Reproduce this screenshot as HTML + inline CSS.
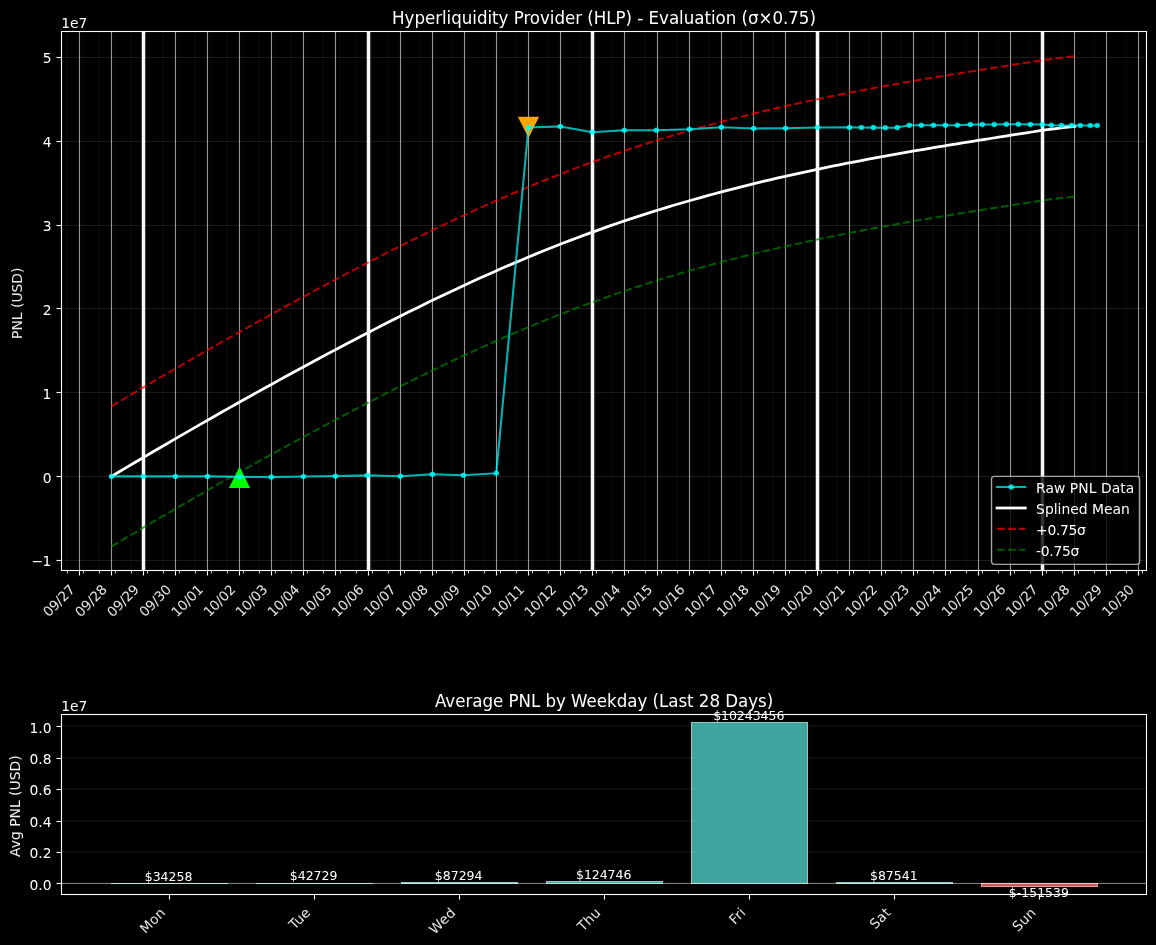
<!DOCTYPE html>
<html lang="en"><head><meta charset="utf-8"><title>Hyperliquidity Provider (HLP) - Evaluation</title>
<style>
html,body{margin:0;padding:0;background:#000;}
body{width:1156px;height:945px;overflow:hidden;font-family:'DejaVu Sans','Liberation Sans',sans-serif;}
svg{display:block;}
text{white-space:pre;}
</style></head><body>
<svg width="1156" height="945" viewBox="0 0 1156 945" font-family="'DejaVu Sans','Liberation Sans',sans-serif" fill="#fff">
<rect x="0" y="0" width="1156" height="945" fill="#000"/>
<g shape-rendering="crispEdges">
<rect x="66" y="32" width="2" height="538" fill="#fff" fill-opacity="0.02"/>
<rect x="82" y="32" width="2" height="538" fill="#fff" fill-opacity="0.02"/>
<rect x="98" y="32" width="2" height="538" fill="#fff" fill-opacity="0.02"/>
<rect x="114" y="32" width="2" height="538" fill="#fff" fill-opacity="0.02"/>
<rect x="130" y="32" width="2" height="538" fill="#fff" fill-opacity="0.02"/>
<rect x="146" y="32" width="2" height="538" fill="#fff" fill-opacity="0.02"/>
<rect x="162" y="32" width="2" height="538" fill="#fff" fill-opacity="0.02"/>
<rect x="178" y="32" width="2" height="538" fill="#fff" fill-opacity="0.02"/>
<rect x="194" y="32" width="2" height="538" fill="#fff" fill-opacity="0.02"/>
<rect x="210" y="32" width="2" height="538" fill="#fff" fill-opacity="0.02"/>
<rect x="226" y="32" width="2" height="538" fill="#fff" fill-opacity="0.02"/>
<rect x="242" y="32" width="2" height="538" fill="#fff" fill-opacity="0.02"/>
<rect x="258" y="32" width="2" height="538" fill="#fff" fill-opacity="0.02"/>
<rect x="274" y="32" width="2" height="538" fill="#fff" fill-opacity="0.02"/>
<rect x="290" y="32" width="2" height="538" fill="#fff" fill-opacity="0.02"/>
<rect x="306" y="32" width="2" height="538" fill="#fff" fill-opacity="0.02"/>
<rect x="322" y="32" width="2" height="538" fill="#fff" fill-opacity="0.02"/>
<rect x="339" y="32" width="2" height="538" fill="#fff" fill-opacity="0.02"/>
<rect x="355" y="32" width="2" height="538" fill="#fff" fill-opacity="0.02"/>
<rect x="371" y="32" width="2" height="538" fill="#fff" fill-opacity="0.02"/>
<rect x="387" y="32" width="2" height="538" fill="#fff" fill-opacity="0.02"/>
<rect x="403" y="32" width="2" height="538" fill="#fff" fill-opacity="0.02"/>
<rect x="419" y="32" width="2" height="538" fill="#fff" fill-opacity="0.02"/>
<rect x="435" y="32" width="2" height="538" fill="#fff" fill-opacity="0.02"/>
<rect x="451" y="32" width="2" height="538" fill="#fff" fill-opacity="0.02"/>
<rect x="467" y="32" width="2" height="538" fill="#fff" fill-opacity="0.02"/>
<rect x="483" y="32" width="2" height="538" fill="#fff" fill-opacity="0.02"/>
<rect x="499" y="32" width="2" height="538" fill="#fff" fill-opacity="0.02"/>
<rect x="515" y="32" width="2" height="538" fill="#fff" fill-opacity="0.02"/>
<rect x="531" y="32" width="2" height="538" fill="#fff" fill-opacity="0.02"/>
<rect x="547" y="32" width="2" height="538" fill="#fff" fill-opacity="0.02"/>
<rect x="563" y="32" width="2" height="538" fill="#fff" fill-opacity="0.02"/>
<rect x="579" y="32" width="2" height="538" fill="#fff" fill-opacity="0.02"/>
<rect x="595" y="32" width="2" height="538" fill="#fff" fill-opacity="0.02"/>
<rect x="611" y="32" width="2" height="538" fill="#fff" fill-opacity="0.02"/>
<rect x="627" y="32" width="2" height="538" fill="#fff" fill-opacity="0.02"/>
<rect x="644" y="32" width="2" height="538" fill="#fff" fill-opacity="0.02"/>
<rect x="660" y="32" width="2" height="538" fill="#fff" fill-opacity="0.02"/>
<rect x="676" y="32" width="2" height="538" fill="#fff" fill-opacity="0.02"/>
<rect x="692" y="32" width="2" height="538" fill="#fff" fill-opacity="0.02"/>
<rect x="708" y="32" width="2" height="538" fill="#fff" fill-opacity="0.02"/>
<rect x="724" y="32" width="2" height="538" fill="#fff" fill-opacity="0.02"/>
<rect x="740" y="32" width="2" height="538" fill="#fff" fill-opacity="0.02"/>
<rect x="756" y="32" width="2" height="538" fill="#fff" fill-opacity="0.02"/>
<rect x="772" y="32" width="2" height="538" fill="#fff" fill-opacity="0.02"/>
<rect x="788" y="32" width="2" height="538" fill="#fff" fill-opacity="0.02"/>
<rect x="804" y="32" width="2" height="538" fill="#fff" fill-opacity="0.02"/>
<rect x="820" y="32" width="2" height="538" fill="#fff" fill-opacity="0.02"/>
<rect x="836" y="32" width="2" height="538" fill="#fff" fill-opacity="0.02"/>
<rect x="852" y="32" width="2" height="538" fill="#fff" fill-opacity="0.02"/>
<rect x="868" y="32" width="2" height="538" fill="#fff" fill-opacity="0.02"/>
<rect x="884" y="32" width="2" height="538" fill="#fff" fill-opacity="0.02"/>
<rect x="900" y="32" width="2" height="538" fill="#fff" fill-opacity="0.02"/>
<rect x="916" y="32" width="2" height="538" fill="#fff" fill-opacity="0.02"/>
<rect x="932" y="32" width="2" height="538" fill="#fff" fill-opacity="0.02"/>
<rect x="949" y="32" width="2" height="538" fill="#fff" fill-opacity="0.02"/>
<rect x="965" y="32" width="2" height="538" fill="#fff" fill-opacity="0.02"/>
<rect x="981" y="32" width="2" height="538" fill="#fff" fill-opacity="0.02"/>
<rect x="997" y="32" width="2" height="538" fill="#fff" fill-opacity="0.02"/>
<rect x="1013" y="32" width="2" height="538" fill="#fff" fill-opacity="0.02"/>
<rect x="1029" y="32" width="2" height="538" fill="#fff" fill-opacity="0.02"/>
<rect x="1045" y="32" width="2" height="538" fill="#fff" fill-opacity="0.02"/>
<rect x="1061" y="32" width="2" height="538" fill="#fff" fill-opacity="0.02"/>
<rect x="1077" y="32" width="2" height="538" fill="#fff" fill-opacity="0.02"/>
<rect x="1093" y="32" width="2" height="538" fill="#fff" fill-opacity="0.02"/>
<rect x="1109" y="32" width="2" height="538" fill="#fff" fill-opacity="0.02"/>
<rect x="1125" y="32" width="2" height="538" fill="#fff" fill-opacity="0.02"/>
<rect x="1141" y="32" width="2" height="538" fill="#fff" fill-opacity="0.02"/>
<rect x="62" y="57" width="1084" height="1" fill="#fff" fill-opacity="0.1"/>
<rect x="62" y="141" width="1084" height="1" fill="#fff" fill-opacity="0.1"/>
<rect x="62" y="225" width="1084" height="1" fill="#fff" fill-opacity="0.1"/>
<rect x="62" y="308" width="1084" height="1" fill="#fff" fill-opacity="0.1"/>
<rect x="62" y="392" width="1084" height="1" fill="#fff" fill-opacity="0.1"/>
<rect x="62" y="476" width="1084" height="1" fill="#fff" fill-opacity="0.1"/>
<rect x="62" y="560" width="1084" height="1" fill="#fff" fill-opacity="0.1"/>
<rect x="78" y="32" width="3" height="538" fill="#fff" fill-opacity="0.033"/>
<rect x="79" y="32" width="1" height="538" fill="#fff" fill-opacity="0.58"/>
<rect x="110" y="32" width="3" height="538" fill="#fff" fill-opacity="0.033"/>
<rect x="111" y="32" width="1" height="538" fill="#fff" fill-opacity="0.58"/>
<rect x="142" y="32" width="3" height="538" fill="#fff" fill-opacity="0.033"/>
<rect x="143" y="32" width="1" height="538" fill="#fff" fill-opacity="0.58"/>
<rect x="174" y="32" width="3" height="538" fill="#fff" fill-opacity="0.033"/>
<rect x="175" y="32" width="1" height="538" fill="#fff" fill-opacity="0.58"/>
<rect x="206" y="32" width="3" height="538" fill="#fff" fill-opacity="0.033"/>
<rect x="207" y="32" width="1" height="538" fill="#fff" fill-opacity="0.58"/>
<rect x="238" y="32" width="3" height="538" fill="#fff" fill-opacity="0.033"/>
<rect x="239" y="32" width="1" height="538" fill="#fff" fill-opacity="0.58"/>
<rect x="270" y="32" width="3" height="538" fill="#fff" fill-opacity="0.033"/>
<rect x="271" y="32" width="1" height="538" fill="#fff" fill-opacity="0.58"/>
<rect x="302" y="32" width="3" height="538" fill="#fff" fill-opacity="0.033"/>
<rect x="303" y="32" width="1" height="538" fill="#fff" fill-opacity="0.58"/>
<rect x="334" y="32" width="3" height="538" fill="#fff" fill-opacity="0.033"/>
<rect x="335" y="32" width="1" height="538" fill="#fff" fill-opacity="0.58"/>
<rect x="367" y="32" width="3" height="538" fill="#fff" fill-opacity="0.033"/>
<rect x="368" y="32" width="1" height="538" fill="#fff" fill-opacity="0.58"/>
<rect x="399" y="32" width="3" height="538" fill="#fff" fill-opacity="0.033"/>
<rect x="400" y="32" width="1" height="538" fill="#fff" fill-opacity="0.58"/>
<rect x="431" y="32" width="3" height="538" fill="#fff" fill-opacity="0.033"/>
<rect x="432" y="32" width="1" height="538" fill="#fff" fill-opacity="0.58"/>
<rect x="463" y="32" width="3" height="538" fill="#fff" fill-opacity="0.033"/>
<rect x="464" y="32" width="1" height="538" fill="#fff" fill-opacity="0.58"/>
<rect x="495" y="32" width="3" height="538" fill="#fff" fill-opacity="0.033"/>
<rect x="496" y="32" width="1" height="538" fill="#fff" fill-opacity="0.58"/>
<rect x="527" y="32" width="3" height="538" fill="#fff" fill-opacity="0.033"/>
<rect x="528" y="32" width="1" height="538" fill="#fff" fill-opacity="0.58"/>
<rect x="559" y="32" width="3" height="538" fill="#fff" fill-opacity="0.033"/>
<rect x="560" y="32" width="1" height="538" fill="#fff" fill-opacity="0.58"/>
<rect x="591" y="32" width="3" height="538" fill="#fff" fill-opacity="0.033"/>
<rect x="592" y="32" width="1" height="538" fill="#fff" fill-opacity="0.58"/>
<rect x="623" y="32" width="3" height="538" fill="#fff" fill-opacity="0.033"/>
<rect x="624" y="32" width="1" height="538" fill="#fff" fill-opacity="0.58"/>
<rect x="656" y="32" width="3" height="538" fill="#fff" fill-opacity="0.033"/>
<rect x="657" y="32" width="1" height="538" fill="#fff" fill-opacity="0.58"/>
<rect x="688" y="32" width="3" height="538" fill="#fff" fill-opacity="0.033"/>
<rect x="689" y="32" width="1" height="538" fill="#fff" fill-opacity="0.58"/>
<rect x="720" y="32" width="3" height="538" fill="#fff" fill-opacity="0.033"/>
<rect x="721" y="32" width="1" height="538" fill="#fff" fill-opacity="0.58"/>
<rect x="752" y="32" width="3" height="538" fill="#fff" fill-opacity="0.033"/>
<rect x="753" y="32" width="1" height="538" fill="#fff" fill-opacity="0.58"/>
<rect x="784" y="32" width="3" height="538" fill="#fff" fill-opacity="0.033"/>
<rect x="785" y="32" width="1" height="538" fill="#fff" fill-opacity="0.58"/>
<rect x="816" y="32" width="3" height="538" fill="#fff" fill-opacity="0.033"/>
<rect x="817" y="32" width="1" height="538" fill="#fff" fill-opacity="0.58"/>
<rect x="848" y="32" width="3" height="538" fill="#fff" fill-opacity="0.033"/>
<rect x="849" y="32" width="1" height="538" fill="#fff" fill-opacity="0.58"/>
<rect x="880" y="32" width="3" height="538" fill="#fff" fill-opacity="0.033"/>
<rect x="881" y="32" width="1" height="538" fill="#fff" fill-opacity="0.58"/>
<rect x="912" y="32" width="3" height="538" fill="#fff" fill-opacity="0.033"/>
<rect x="913" y="32" width="1" height="538" fill="#fff" fill-opacity="0.58"/>
<rect x="944" y="32" width="3" height="538" fill="#fff" fill-opacity="0.033"/>
<rect x="945" y="32" width="1" height="538" fill="#fff" fill-opacity="0.58"/>
<rect x="977" y="32" width="3" height="538" fill="#fff" fill-opacity="0.033"/>
<rect x="978" y="32" width="1" height="538" fill="#fff" fill-opacity="0.58"/>
<rect x="1009" y="32" width="3" height="538" fill="#fff" fill-opacity="0.033"/>
<rect x="1010" y="32" width="1" height="538" fill="#fff" fill-opacity="0.58"/>
<rect x="1041" y="32" width="3" height="538" fill="#fff" fill-opacity="0.033"/>
<rect x="1042" y="32" width="1" height="538" fill="#fff" fill-opacity="0.58"/>
<rect x="1073" y="32" width="3" height="538" fill="#fff" fill-opacity="0.033"/>
<rect x="1074" y="32" width="1" height="538" fill="#fff" fill-opacity="0.58"/>
<rect x="1105" y="32" width="3" height="538" fill="#fff" fill-opacity="0.033"/>
<rect x="1106" y="32" width="1" height="538" fill="#fff" fill-opacity="0.58"/>
<rect x="1137" y="32" width="3" height="538" fill="#fff" fill-opacity="0.033"/>
<rect x="1138" y="32" width="1" height="538" fill="#fff" fill-opacity="0.58"/>
</g>
<rect x="142" y="32" width="3" height="538" fill="#fff" fill-opacity="0.96" shape-rendering="crispEdges"/>
<rect x="141" y="32" width="1" height="538" fill="#fff" fill-opacity="0.25" shape-rendering="crispEdges"/>
<rect x="145" y="32" width="1" height="538" fill="#fff" fill-opacity="0.25" shape-rendering="crispEdges"/>
<rect x="367" y="32" width="3" height="538" fill="#fff" fill-opacity="0.96" shape-rendering="crispEdges"/>
<rect x="366" y="32" width="1" height="538" fill="#fff" fill-opacity="0.25" shape-rendering="crispEdges"/>
<rect x="370" y="32" width="1" height="538" fill="#fff" fill-opacity="0.25" shape-rendering="crispEdges"/>
<rect x="591" y="32" width="3" height="538" fill="#fff" fill-opacity="0.96" shape-rendering="crispEdges"/>
<rect x="590" y="32" width="1" height="538" fill="#fff" fill-opacity="0.25" shape-rendering="crispEdges"/>
<rect x="594" y="32" width="1" height="538" fill="#fff" fill-opacity="0.25" shape-rendering="crispEdges"/>
<rect x="816" y="32" width="3" height="538" fill="#fff" fill-opacity="0.96" shape-rendering="crispEdges"/>
<rect x="815" y="32" width="1" height="538" fill="#fff" fill-opacity="0.25" shape-rendering="crispEdges"/>
<rect x="819" y="32" width="1" height="538" fill="#fff" fill-opacity="0.25" shape-rendering="crispEdges"/>
<rect x="1041" y="32" width="3" height="538" fill="#fff" fill-opacity="0.96" shape-rendering="crispEdges"/>
<rect x="1040" y="32" width="1" height="538" fill="#fff" fill-opacity="0.25" shape-rendering="crispEdges"/>
<rect x="1044" y="32" width="1" height="538" fill="#fff" fill-opacity="0.25" shape-rendering="crispEdges"/>
<path d="M111.46 476.40 L118.39 472.27 L125.32 468.15 L132.26 464.05 L139.19 459.95 L146.12 455.87 L153.05 451.80 L159.98 447.74 L166.92 443.69 L173.85 439.66 L180.78 435.64 L187.71 431.63 L194.64 427.64 L201.58 423.66 L208.51 419.69 L215.44 415.74 L222.37 411.81 L229.30 407.88 L236.23 403.98 L243.17 400.08 L250.10 396.20 L257.03 392.34 L263.96 388.49 L270.89 384.66 L277.83 380.85 L284.76 377.04 L291.69 373.26 L298.62 369.49 L305.55 365.73 L312.49 362.00 L319.42 358.27 L326.35 354.57 L333.28 350.88 L340.21 347.20 L347.15 343.55 L354.08 339.91 L361.01 336.29 L367.94 332.69 L374.87 329.11 L381.81 325.55 L388.74 322.02 L395.67 318.51 L402.60 315.02 L409.53 311.56 L416.47 308.13 L423.40 304.73 L430.33 301.35 L437.26 298.01 L444.19 294.69 L451.13 291.41 L458.06 288.16 L464.99 284.94 L471.92 281.75 L478.85 278.60 L485.78 275.48 L492.72 272.40 L499.65 269.35 L506.58 266.33 L513.51 263.36 L520.44 260.41 L527.38 257.51 L534.31 254.64 L541.24 251.81 L548.17 249.02 L555.10 246.27 L562.04 243.55 L568.97 240.88 L575.90 238.24 L582.83 235.65 L589.76 233.10 L596.70 230.58 L603.63 228.11 L610.56 225.67 L617.49 223.28 L624.42 220.93 L631.36 218.61 L638.29 216.34 L645.22 214.10 L652.15 211.90 L659.08 209.75 L666.02 207.62 L672.95 205.54 L679.88 203.49 L686.81 201.47 L693.74 199.49 L700.68 197.55 L707.61 195.63 L714.54 193.75 L721.47 191.91 L728.40 190.09 L735.33 188.31 L742.27 186.55 L749.20 184.83 L756.13 183.13 L763.06 181.47 L769.99 179.83 L776.93 178.22 L783.86 176.63 L790.79 175.07 L797.72 173.54 L804.65 172.03 L811.59 170.55 L818.52 169.09 L825.45 167.65 L832.38 166.23 L839.31 164.84 L846.25 163.47 L853.18 162.11 L860.11 160.78 L867.04 159.47 L873.97 158.17 L880.91 156.89 L887.84 155.63 L894.77 154.39 L901.70 153.16 L908.63 151.94 L915.57 150.74 L922.50 149.56 L929.43 148.38 L936.36 147.22 L943.29 146.07 L950.23 144.93 L957.16 143.80 L964.09 142.68 L971.02 141.56 L977.95 140.45 L984.88 139.35 L991.82 138.25 L998.75 137.15 L1005.68 136.06 L1012.61 134.97 L1019.54 133.88 L1026.48 132.81 L1033.41 131.75 L1040.34 130.72 L1047.27 129.73 L1054.20 128.79 L1061.14 127.89 L1068.07 127.06 L1075.00 126.30" fill="none" stroke="#fff" stroke-width="2.78" stroke-linejoin="round" stroke-linecap="square"/>
<path d="M111.46 406.30 L118.39 402.17 L125.32 398.05 L132.26 393.95 L139.19 389.85 L146.12 385.77 L153.05 381.70 L159.98 377.64 L166.92 373.59 L173.85 369.56 L180.78 365.54 L187.71 361.53 L194.64 357.54 L201.58 353.56 L208.51 349.59 L215.44 345.64 L222.37 341.71 L229.30 337.78 L236.23 333.88 L243.17 329.98 L250.10 326.10 L257.03 322.24 L263.96 318.39 L270.89 314.56 L277.83 310.75 L284.76 306.94 L291.69 303.16 L298.62 299.39 L305.55 295.63 L312.49 291.90 L319.42 288.17 L326.35 284.47 L333.28 280.78 L340.21 277.10 L347.15 273.45 L354.08 269.81 L361.01 266.19 L367.94 262.59 L374.87 259.01 L381.81 255.45 L388.74 251.92 L395.67 248.41 L402.60 244.92 L409.53 241.46 L416.47 238.03 L423.40 234.63 L430.33 231.25 L437.26 227.91 L444.19 224.59 L451.13 221.31 L458.06 218.06 L464.99 214.84 L471.92 211.65 L478.85 208.50 L485.78 205.38 L492.72 202.30 L499.65 199.25 L506.58 196.23 L513.51 193.26 L520.44 190.31 L527.38 187.41 L534.31 184.54 L541.24 181.71 L548.17 178.92 L555.10 176.17 L562.04 173.45 L568.97 170.78 L575.90 168.14 L582.83 165.55 L589.76 163.00 L596.70 160.48 L603.63 158.01 L610.56 155.57 L617.49 153.18 L624.42 150.83 L631.36 148.51 L638.29 146.24 L645.22 144.00 L652.15 141.80 L659.08 139.65 L666.02 137.52 L672.95 135.44 L679.88 133.39 L686.81 131.37 L693.74 129.39 L700.68 127.45 L707.61 125.53 L714.54 123.65 L721.47 121.81 L728.40 119.99 L735.33 118.21 L742.27 116.45 L749.20 114.73 L756.13 113.03 L763.06 111.37 L769.99 109.73 L776.93 108.12 L783.86 106.53 L790.79 104.97 L797.72 103.44 L804.65 101.93 L811.59 100.45 L818.52 98.99 L825.45 97.55 L832.38 96.13 L839.31 94.74 L846.25 93.37 L853.18 92.01 L860.11 90.68 L867.04 89.37 L873.97 88.07 L880.91 86.79 L887.84 85.53 L894.77 84.29 L901.70 83.06 L908.63 81.84 L915.57 80.64 L922.50 79.46 L929.43 78.28 L936.36 77.12 L943.29 75.97 L950.23 74.83 L957.16 73.70 L964.09 72.58 L971.02 71.46 L977.95 70.35 L984.88 69.25 L991.82 68.15 L998.75 67.05 L1005.68 65.96 L1012.61 64.87 L1019.54 63.78 L1026.48 62.71 L1033.41 61.65 L1040.34 60.62 L1047.27 59.63 L1054.20 58.69 L1061.14 57.79 L1068.07 56.96 L1075.00 56.20" fill="none" stroke="#f00" stroke-opacity="0.7" stroke-width="2.08" stroke-dasharray="7.71 3.33" stroke-linejoin="round"/>
<path d="M111.46 546.50 L118.39 542.37 L125.32 538.25 L132.26 534.15 L139.19 530.05 L146.12 525.97 L153.05 521.90 L159.98 517.84 L166.92 513.79 L173.85 509.76 L180.78 505.74 L187.71 501.73 L194.64 497.74 L201.58 493.76 L208.51 489.79 L215.44 485.84 L222.37 481.91 L229.30 477.98 L236.23 474.08 L243.17 470.18 L250.10 466.30 L257.03 462.44 L263.96 458.59 L270.89 454.76 L277.83 450.95 L284.76 447.14 L291.69 443.36 L298.62 439.59 L305.55 435.83 L312.49 432.10 L319.42 428.37 L326.35 424.67 L333.28 420.98 L340.21 417.30 L347.15 413.65 L354.08 410.01 L361.01 406.39 L367.94 402.79 L374.87 399.21 L381.81 395.65 L388.74 392.12 L395.67 388.61 L402.60 385.12 L409.53 381.66 L416.47 378.23 L423.40 374.83 L430.33 371.45 L437.26 368.11 L444.19 364.79 L451.13 361.51 L458.06 358.26 L464.99 355.04 L471.92 351.85 L478.85 348.70 L485.78 345.58 L492.72 342.50 L499.65 339.45 L506.58 336.43 L513.51 333.46 L520.44 330.51 L527.38 327.61 L534.31 324.74 L541.24 321.91 L548.17 319.12 L555.10 316.37 L562.04 313.65 L568.97 310.98 L575.90 308.34 L582.83 305.75 L589.76 303.20 L596.70 300.68 L603.63 298.21 L610.56 295.77 L617.49 293.38 L624.42 291.03 L631.36 288.71 L638.29 286.44 L645.22 284.20 L652.15 282.00 L659.08 279.85 L666.02 277.72 L672.95 275.64 L679.88 273.59 L686.81 271.57 L693.74 269.59 L700.68 267.65 L707.61 265.73 L714.54 263.85 L721.47 262.01 L728.40 260.19 L735.33 258.41 L742.27 256.65 L749.20 254.93 L756.13 253.23 L763.06 251.57 L769.99 249.93 L776.93 248.32 L783.86 246.73 L790.79 245.17 L797.72 243.64 L804.65 242.13 L811.59 240.65 L818.52 239.19 L825.45 237.75 L832.38 236.33 L839.31 234.94 L846.25 233.57 L853.18 232.21 L860.11 230.88 L867.04 229.57 L873.97 228.27 L880.91 226.99 L887.84 225.73 L894.77 224.49 L901.70 223.26 L908.63 222.04 L915.57 220.84 L922.50 219.66 L929.43 218.48 L936.36 217.32 L943.29 216.17 L950.23 215.03 L957.16 213.90 L964.09 212.78 L971.02 211.66 L977.95 210.55 L984.88 209.45 L991.82 208.35 L998.75 207.25 L1005.68 206.16 L1012.61 205.07 L1019.54 203.98 L1026.48 202.91 L1033.41 201.85 L1040.34 200.82 L1047.27 199.83 L1054.20 198.89 L1061.14 197.99 L1068.07 197.16 L1075.00 196.40" fill="none" stroke="#008000" stroke-opacity="0.7" stroke-width="2.08" stroke-dasharray="7.71 3.33" stroke-linejoin="round"/>
<polygon points="239.55,466.70 228.95,487.90 250.15,487.90" fill="#0f0"/>
<polygon points="528.50,137.90 517.90,116.70 539.10,116.70" fill="#ffa500"/>
<path d="M111.46 476.40 L143.40 476.40 L175.50 476.40 L207.50 476.40 L239.50 476.90 L271.40 477.10 L303.50 476.50 L335.50 476.15 L367.30 475.40 L400.40 476.30 L432.40 474.30 L463.50 475.30 L496.30 473.20 L528.40 127.50 L560.45 126.40 L592.40 132.30 L624.30 130.30 L656.30 130.30 L689.40 129.30 L721.40 127.20 L753.60 128.45 L785.50 128.25 L817.50 127.50 L849.50 127.40 L861.40 127.50 L873.40 127.60 L885.30 127.70 L897.30 127.60 L909.30 125.30 L921.40 125.30 L933.40 125.30 L945.40 125.30 L957.40 125.30 L970.40 124.60 L982.30 124.50 L994.30 124.50 L1006.30 124.30 L1018.30 124.30 L1030.40 124.40 L1042.40 124.50 L1051.40 125.30 L1061.50 125.50 L1071.50 125.50 L1080.40 125.50 L1090.30 125.50 L1097.30 125.50" fill="none" stroke="#0ff" stroke-opacity="0.7" stroke-width="2.08" stroke-linejoin="round" stroke-linecap="square"/>
<g fill="#0ff" fill-opacity="0.7" stroke="#0ff" stroke-opacity="0.7" stroke-width="1.39">
<circle cx="111.46" cy="476.40" r="2.08"/>
<circle cx="143.40" cy="476.40" r="2.08"/>
<circle cx="175.50" cy="476.40" r="2.08"/>
<circle cx="207.50" cy="476.40" r="2.08"/>
<circle cx="239.50" cy="476.90" r="2.08"/>
<circle cx="271.40" cy="477.10" r="2.08"/>
<circle cx="303.50" cy="476.50" r="2.08"/>
<circle cx="335.50" cy="476.15" r="2.08"/>
<circle cx="367.30" cy="475.40" r="2.08"/>
<circle cx="400.40" cy="476.30" r="2.08"/>
<circle cx="432.40" cy="474.30" r="2.08"/>
<circle cx="463.50" cy="475.30" r="2.08"/>
<circle cx="496.30" cy="473.20" r="2.08"/>
<circle cx="528.40" cy="127.50" r="2.08"/>
<circle cx="560.45" cy="126.40" r="2.08"/>
<circle cx="592.40" cy="132.30" r="2.08"/>
<circle cx="624.30" cy="130.30" r="2.08"/>
<circle cx="656.30" cy="130.30" r="2.08"/>
<circle cx="689.40" cy="129.30" r="2.08"/>
<circle cx="721.40" cy="127.20" r="2.08"/>
<circle cx="753.60" cy="128.45" r="2.08"/>
<circle cx="785.50" cy="128.25" r="2.08"/>
<circle cx="817.50" cy="127.50" r="2.08"/>
<circle cx="849.50" cy="127.40" r="2.08"/>
<circle cx="861.40" cy="127.50" r="2.08"/>
<circle cx="873.40" cy="127.60" r="2.08"/>
<circle cx="885.30" cy="127.70" r="2.08"/>
<circle cx="897.30" cy="127.60" r="2.08"/>
<circle cx="909.30" cy="125.30" r="2.08"/>
<circle cx="921.40" cy="125.30" r="2.08"/>
<circle cx="933.40" cy="125.30" r="2.08"/>
<circle cx="945.40" cy="125.30" r="2.08"/>
<circle cx="957.40" cy="125.30" r="2.08"/>
<circle cx="970.40" cy="124.60" r="2.08"/>
<circle cx="982.30" cy="124.50" r="2.08"/>
<circle cx="994.30" cy="124.50" r="2.08"/>
<circle cx="1006.30" cy="124.30" r="2.08"/>
<circle cx="1018.30" cy="124.30" r="2.08"/>
<circle cx="1030.40" cy="124.40" r="2.08"/>
<circle cx="1042.40" cy="124.50" r="2.08"/>
<circle cx="1051.40" cy="125.30" r="2.08"/>
<circle cx="1061.50" cy="125.50" r="2.08"/>
<circle cx="1071.50" cy="125.50" r="2.08"/>
<circle cx="1080.40" cy="125.50" r="2.08"/>
<circle cx="1090.30" cy="125.50" r="2.08"/>
<circle cx="1097.30" cy="125.50" r="2.08"/>
</g>
<g shape-rendering="crispEdges">
<path d="M60 30h1088v542h-1088z M63 33v536h1082v-536z" fill="#fff" fill-opacity="0.05" fill-rule="evenodd"/>
<rect x="61" y="31" width="1086" height="1" fill="#fff"/>
<rect x="61" y="570" width="1086" height="1" fill="#fff"/>
<rect x="61" y="31" width="1" height="540" fill="#fff"/>
<rect x="1146" y="31" width="1" height="540" fill="#fff"/>
<rect x="56" y="56" width="5" height="3" fill="#fff" fill-opacity="0.05"/>
<rect x="57" y="57" width="4" height="1" fill="#fff"/>
<rect x="56" y="57" width="1" height="1" fill="#fff" fill-opacity="0.5"/>
<rect x="56" y="140" width="5" height="3" fill="#fff" fill-opacity="0.05"/>
<rect x="57" y="141" width="4" height="1" fill="#fff"/>
<rect x="56" y="141" width="1" height="1" fill="#fff" fill-opacity="0.5"/>
<rect x="56" y="224" width="5" height="3" fill="#fff" fill-opacity="0.05"/>
<rect x="57" y="225" width="4" height="1" fill="#fff"/>
<rect x="56" y="225" width="1" height="1" fill="#fff" fill-opacity="0.5"/>
<rect x="56" y="307" width="5" height="3" fill="#fff" fill-opacity="0.05"/>
<rect x="57" y="308" width="4" height="1" fill="#fff"/>
<rect x="56" y="308" width="1" height="1" fill="#fff" fill-opacity="0.5"/>
<rect x="56" y="391" width="5" height="3" fill="#fff" fill-opacity="0.05"/>
<rect x="57" y="392" width="4" height="1" fill="#fff"/>
<rect x="56" y="392" width="1" height="1" fill="#fff" fill-opacity="0.5"/>
<rect x="56" y="475" width="5" height="3" fill="#fff" fill-opacity="0.05"/>
<rect x="57" y="476" width="4" height="1" fill="#fff"/>
<rect x="56" y="476" width="1" height="1" fill="#fff" fill-opacity="0.5"/>
<rect x="56" y="559" width="5" height="3" fill="#fff" fill-opacity="0.05"/>
<rect x="57" y="560" width="4" height="1" fill="#fff"/>
<rect x="56" y="560" width="1" height="1" fill="#fff" fill-opacity="0.5"/>
<rect x="78" y="572" width="3" height="4" fill="#fff" fill-opacity="0.05"/>
<rect x="79" y="571" width="1" height="4" fill="#fff"/>
<rect x="79" y="575" width="1" height="1" fill="#fff" fill-opacity="0.5"/>
<rect x="110" y="572" width="3" height="4" fill="#fff" fill-opacity="0.05"/>
<rect x="111" y="571" width="1" height="4" fill="#fff"/>
<rect x="111" y="575" width="1" height="1" fill="#fff" fill-opacity="0.5"/>
<rect x="142" y="572" width="3" height="4" fill="#fff" fill-opacity="0.05"/>
<rect x="143" y="571" width="1" height="4" fill="#fff"/>
<rect x="143" y="575" width="1" height="1" fill="#fff" fill-opacity="0.5"/>
<rect x="174" y="572" width="3" height="4" fill="#fff" fill-opacity="0.05"/>
<rect x="175" y="571" width="1" height="4" fill="#fff"/>
<rect x="175" y="575" width="1" height="1" fill="#fff" fill-opacity="0.5"/>
<rect x="206" y="572" width="3" height="4" fill="#fff" fill-opacity="0.05"/>
<rect x="207" y="571" width="1" height="4" fill="#fff"/>
<rect x="207" y="575" width="1" height="1" fill="#fff" fill-opacity="0.5"/>
<rect x="238" y="572" width="3" height="4" fill="#fff" fill-opacity="0.05"/>
<rect x="239" y="571" width="1" height="4" fill="#fff"/>
<rect x="239" y="575" width="1" height="1" fill="#fff" fill-opacity="0.5"/>
<rect x="270" y="572" width="3" height="4" fill="#fff" fill-opacity="0.05"/>
<rect x="271" y="571" width="1" height="4" fill="#fff"/>
<rect x="271" y="575" width="1" height="1" fill="#fff" fill-opacity="0.5"/>
<rect x="302" y="572" width="3" height="4" fill="#fff" fill-opacity="0.05"/>
<rect x="303" y="571" width="1" height="4" fill="#fff"/>
<rect x="303" y="575" width="1" height="1" fill="#fff" fill-opacity="0.5"/>
<rect x="334" y="572" width="3" height="4" fill="#fff" fill-opacity="0.05"/>
<rect x="335" y="571" width="1" height="4" fill="#fff"/>
<rect x="335" y="575" width="1" height="1" fill="#fff" fill-opacity="0.5"/>
<rect x="367" y="572" width="3" height="4" fill="#fff" fill-opacity="0.05"/>
<rect x="368" y="571" width="1" height="4" fill="#fff"/>
<rect x="368" y="575" width="1" height="1" fill="#fff" fill-opacity="0.5"/>
<rect x="399" y="572" width="3" height="4" fill="#fff" fill-opacity="0.05"/>
<rect x="400" y="571" width="1" height="4" fill="#fff"/>
<rect x="400" y="575" width="1" height="1" fill="#fff" fill-opacity="0.5"/>
<rect x="431" y="572" width="3" height="4" fill="#fff" fill-opacity="0.05"/>
<rect x="432" y="571" width="1" height="4" fill="#fff"/>
<rect x="432" y="575" width="1" height="1" fill="#fff" fill-opacity="0.5"/>
<rect x="463" y="572" width="3" height="4" fill="#fff" fill-opacity="0.05"/>
<rect x="464" y="571" width="1" height="4" fill="#fff"/>
<rect x="464" y="575" width="1" height="1" fill="#fff" fill-opacity="0.5"/>
<rect x="495" y="572" width="3" height="4" fill="#fff" fill-opacity="0.05"/>
<rect x="496" y="571" width="1" height="4" fill="#fff"/>
<rect x="496" y="575" width="1" height="1" fill="#fff" fill-opacity="0.5"/>
<rect x="527" y="572" width="3" height="4" fill="#fff" fill-opacity="0.05"/>
<rect x="528" y="571" width="1" height="4" fill="#fff"/>
<rect x="528" y="575" width="1" height="1" fill="#fff" fill-opacity="0.5"/>
<rect x="559" y="572" width="3" height="4" fill="#fff" fill-opacity="0.05"/>
<rect x="560" y="571" width="1" height="4" fill="#fff"/>
<rect x="560" y="575" width="1" height="1" fill="#fff" fill-opacity="0.5"/>
<rect x="591" y="572" width="3" height="4" fill="#fff" fill-opacity="0.05"/>
<rect x="592" y="571" width="1" height="4" fill="#fff"/>
<rect x="592" y="575" width="1" height="1" fill="#fff" fill-opacity="0.5"/>
<rect x="623" y="572" width="3" height="4" fill="#fff" fill-opacity="0.05"/>
<rect x="624" y="571" width="1" height="4" fill="#fff"/>
<rect x="624" y="575" width="1" height="1" fill="#fff" fill-opacity="0.5"/>
<rect x="656" y="572" width="3" height="4" fill="#fff" fill-opacity="0.05"/>
<rect x="657" y="571" width="1" height="4" fill="#fff"/>
<rect x="657" y="575" width="1" height="1" fill="#fff" fill-opacity="0.5"/>
<rect x="688" y="572" width="3" height="4" fill="#fff" fill-opacity="0.05"/>
<rect x="689" y="571" width="1" height="4" fill="#fff"/>
<rect x="689" y="575" width="1" height="1" fill="#fff" fill-opacity="0.5"/>
<rect x="720" y="572" width="3" height="4" fill="#fff" fill-opacity="0.05"/>
<rect x="721" y="571" width="1" height="4" fill="#fff"/>
<rect x="721" y="575" width="1" height="1" fill="#fff" fill-opacity="0.5"/>
<rect x="752" y="572" width="3" height="4" fill="#fff" fill-opacity="0.05"/>
<rect x="753" y="571" width="1" height="4" fill="#fff"/>
<rect x="753" y="575" width="1" height="1" fill="#fff" fill-opacity="0.5"/>
<rect x="784" y="572" width="3" height="4" fill="#fff" fill-opacity="0.05"/>
<rect x="785" y="571" width="1" height="4" fill="#fff"/>
<rect x="785" y="575" width="1" height="1" fill="#fff" fill-opacity="0.5"/>
<rect x="816" y="572" width="3" height="4" fill="#fff" fill-opacity="0.05"/>
<rect x="817" y="571" width="1" height="4" fill="#fff"/>
<rect x="817" y="575" width="1" height="1" fill="#fff" fill-opacity="0.5"/>
<rect x="848" y="572" width="3" height="4" fill="#fff" fill-opacity="0.05"/>
<rect x="849" y="571" width="1" height="4" fill="#fff"/>
<rect x="849" y="575" width="1" height="1" fill="#fff" fill-opacity="0.5"/>
<rect x="880" y="572" width="3" height="4" fill="#fff" fill-opacity="0.05"/>
<rect x="881" y="571" width="1" height="4" fill="#fff"/>
<rect x="881" y="575" width="1" height="1" fill="#fff" fill-opacity="0.5"/>
<rect x="912" y="572" width="3" height="4" fill="#fff" fill-opacity="0.05"/>
<rect x="913" y="571" width="1" height="4" fill="#fff"/>
<rect x="913" y="575" width="1" height="1" fill="#fff" fill-opacity="0.5"/>
<rect x="944" y="572" width="3" height="4" fill="#fff" fill-opacity="0.05"/>
<rect x="945" y="571" width="1" height="4" fill="#fff"/>
<rect x="945" y="575" width="1" height="1" fill="#fff" fill-opacity="0.5"/>
<rect x="977" y="572" width="3" height="4" fill="#fff" fill-opacity="0.05"/>
<rect x="978" y="571" width="1" height="4" fill="#fff"/>
<rect x="978" y="575" width="1" height="1" fill="#fff" fill-opacity="0.5"/>
<rect x="1009" y="572" width="3" height="4" fill="#fff" fill-opacity="0.05"/>
<rect x="1010" y="571" width="1" height="4" fill="#fff"/>
<rect x="1010" y="575" width="1" height="1" fill="#fff" fill-opacity="0.5"/>
<rect x="1041" y="572" width="3" height="4" fill="#fff" fill-opacity="0.05"/>
<rect x="1042" y="571" width="1" height="4" fill="#fff"/>
<rect x="1042" y="575" width="1" height="1" fill="#fff" fill-opacity="0.5"/>
<rect x="1073" y="572" width="3" height="4" fill="#fff" fill-opacity="0.05"/>
<rect x="1074" y="571" width="1" height="4" fill="#fff"/>
<rect x="1074" y="575" width="1" height="1" fill="#fff" fill-opacity="0.5"/>
<rect x="1105" y="572" width="3" height="4" fill="#fff" fill-opacity="0.05"/>
<rect x="1106" y="571" width="1" height="4" fill="#fff"/>
<rect x="1106" y="575" width="1" height="1" fill="#fff" fill-opacity="0.5"/>
<rect x="1137" y="572" width="3" height="4" fill="#fff" fill-opacity="0.05"/>
<rect x="1138" y="571" width="1" height="4" fill="#fff"/>
<rect x="1138" y="575" width="1" height="1" fill="#fff" fill-opacity="0.5"/>
<rect x="67" y="571" width="1" height="2" fill="#fff" fill-opacity="0.83"/>
<rect x="67" y="573" width="1" height="1" fill="#fff" fill-opacity="0.41"/>
<rect x="83" y="571" width="1" height="2" fill="#fff" fill-opacity="0.83"/>
<rect x="83" y="573" width="1" height="1" fill="#fff" fill-opacity="0.41"/>
<rect x="99" y="571" width="1" height="2" fill="#fff" fill-opacity="0.83"/>
<rect x="99" y="573" width="1" height="1" fill="#fff" fill-opacity="0.41"/>
<rect x="115" y="571" width="1" height="2" fill="#fff" fill-opacity="0.83"/>
<rect x="115" y="573" width="1" height="1" fill="#fff" fill-opacity="0.41"/>
<rect x="131" y="571" width="1" height="2" fill="#fff" fill-opacity="0.83"/>
<rect x="131" y="573" width="1" height="1" fill="#fff" fill-opacity="0.41"/>
<rect x="147" y="571" width="1" height="2" fill="#fff" fill-opacity="0.83"/>
<rect x="147" y="573" width="1" height="1" fill="#fff" fill-opacity="0.41"/>
<rect x="163" y="571" width="1" height="2" fill="#fff" fill-opacity="0.83"/>
<rect x="163" y="573" width="1" height="1" fill="#fff" fill-opacity="0.41"/>
<rect x="179" y="571" width="1" height="2" fill="#fff" fill-opacity="0.83"/>
<rect x="179" y="573" width="1" height="1" fill="#fff" fill-opacity="0.41"/>
<rect x="195" y="571" width="1" height="2" fill="#fff" fill-opacity="0.83"/>
<rect x="195" y="573" width="1" height="1" fill="#fff" fill-opacity="0.41"/>
<rect x="211" y="571" width="1" height="2" fill="#fff" fill-opacity="0.83"/>
<rect x="211" y="573" width="1" height="1" fill="#fff" fill-opacity="0.41"/>
<rect x="227" y="571" width="1" height="2" fill="#fff" fill-opacity="0.83"/>
<rect x="227" y="573" width="1" height="1" fill="#fff" fill-opacity="0.41"/>
<rect x="243" y="571" width="1" height="2" fill="#fff" fill-opacity="0.83"/>
<rect x="243" y="573" width="1" height="1" fill="#fff" fill-opacity="0.41"/>
<rect x="259" y="571" width="1" height="2" fill="#fff" fill-opacity="0.83"/>
<rect x="259" y="573" width="1" height="1" fill="#fff" fill-opacity="0.41"/>
<rect x="275" y="571" width="1" height="2" fill="#fff" fill-opacity="0.83"/>
<rect x="275" y="573" width="1" height="1" fill="#fff" fill-opacity="0.41"/>
<rect x="291" y="571" width="1" height="2" fill="#fff" fill-opacity="0.83"/>
<rect x="291" y="573" width="1" height="1" fill="#fff" fill-opacity="0.41"/>
<rect x="307" y="571" width="1" height="2" fill="#fff" fill-opacity="0.83"/>
<rect x="307" y="573" width="1" height="1" fill="#fff" fill-opacity="0.41"/>
<rect x="323" y="571" width="1" height="2" fill="#fff" fill-opacity="0.83"/>
<rect x="323" y="573" width="1" height="1" fill="#fff" fill-opacity="0.41"/>
<rect x="340" y="571" width="1" height="2" fill="#fff" fill-opacity="0.83"/>
<rect x="340" y="573" width="1" height="1" fill="#fff" fill-opacity="0.41"/>
<rect x="356" y="571" width="1" height="2" fill="#fff" fill-opacity="0.83"/>
<rect x="356" y="573" width="1" height="1" fill="#fff" fill-opacity="0.41"/>
<rect x="372" y="571" width="1" height="2" fill="#fff" fill-opacity="0.83"/>
<rect x="372" y="573" width="1" height="1" fill="#fff" fill-opacity="0.41"/>
<rect x="388" y="571" width="1" height="2" fill="#fff" fill-opacity="0.83"/>
<rect x="388" y="573" width="1" height="1" fill="#fff" fill-opacity="0.41"/>
<rect x="404" y="571" width="1" height="2" fill="#fff" fill-opacity="0.83"/>
<rect x="404" y="573" width="1" height="1" fill="#fff" fill-opacity="0.41"/>
<rect x="420" y="571" width="1" height="2" fill="#fff" fill-opacity="0.83"/>
<rect x="420" y="573" width="1" height="1" fill="#fff" fill-opacity="0.41"/>
<rect x="436" y="571" width="1" height="2" fill="#fff" fill-opacity="0.83"/>
<rect x="436" y="573" width="1" height="1" fill="#fff" fill-opacity="0.41"/>
<rect x="452" y="571" width="1" height="2" fill="#fff" fill-opacity="0.83"/>
<rect x="452" y="573" width="1" height="1" fill="#fff" fill-opacity="0.41"/>
<rect x="468" y="571" width="1" height="2" fill="#fff" fill-opacity="0.83"/>
<rect x="468" y="573" width="1" height="1" fill="#fff" fill-opacity="0.41"/>
<rect x="484" y="571" width="1" height="2" fill="#fff" fill-opacity="0.83"/>
<rect x="484" y="573" width="1" height="1" fill="#fff" fill-opacity="0.41"/>
<rect x="500" y="571" width="1" height="2" fill="#fff" fill-opacity="0.83"/>
<rect x="500" y="573" width="1" height="1" fill="#fff" fill-opacity="0.41"/>
<rect x="516" y="571" width="1" height="2" fill="#fff" fill-opacity="0.83"/>
<rect x="516" y="573" width="1" height="1" fill="#fff" fill-opacity="0.41"/>
<rect x="532" y="571" width="1" height="2" fill="#fff" fill-opacity="0.83"/>
<rect x="532" y="573" width="1" height="1" fill="#fff" fill-opacity="0.41"/>
<rect x="548" y="571" width="1" height="2" fill="#fff" fill-opacity="0.83"/>
<rect x="548" y="573" width="1" height="1" fill="#fff" fill-opacity="0.41"/>
<rect x="564" y="571" width="1" height="2" fill="#fff" fill-opacity="0.83"/>
<rect x="564" y="573" width="1" height="1" fill="#fff" fill-opacity="0.41"/>
<rect x="580" y="571" width="1" height="2" fill="#fff" fill-opacity="0.83"/>
<rect x="580" y="573" width="1" height="1" fill="#fff" fill-opacity="0.41"/>
<rect x="596" y="571" width="1" height="2" fill="#fff" fill-opacity="0.83"/>
<rect x="596" y="573" width="1" height="1" fill="#fff" fill-opacity="0.41"/>
<rect x="612" y="571" width="1" height="2" fill="#fff" fill-opacity="0.83"/>
<rect x="612" y="573" width="1" height="1" fill="#fff" fill-opacity="0.41"/>
<rect x="628" y="571" width="1" height="2" fill="#fff" fill-opacity="0.83"/>
<rect x="628" y="573" width="1" height="1" fill="#fff" fill-opacity="0.41"/>
<rect x="645" y="571" width="1" height="2" fill="#fff" fill-opacity="0.83"/>
<rect x="645" y="573" width="1" height="1" fill="#fff" fill-opacity="0.41"/>
<rect x="661" y="571" width="1" height="2" fill="#fff" fill-opacity="0.83"/>
<rect x="661" y="573" width="1" height="1" fill="#fff" fill-opacity="0.41"/>
<rect x="677" y="571" width="1" height="2" fill="#fff" fill-opacity="0.83"/>
<rect x="677" y="573" width="1" height="1" fill="#fff" fill-opacity="0.41"/>
<rect x="693" y="571" width="1" height="2" fill="#fff" fill-opacity="0.83"/>
<rect x="693" y="573" width="1" height="1" fill="#fff" fill-opacity="0.41"/>
<rect x="709" y="571" width="1" height="2" fill="#fff" fill-opacity="0.83"/>
<rect x="709" y="573" width="1" height="1" fill="#fff" fill-opacity="0.41"/>
<rect x="725" y="571" width="1" height="2" fill="#fff" fill-opacity="0.83"/>
<rect x="725" y="573" width="1" height="1" fill="#fff" fill-opacity="0.41"/>
<rect x="741" y="571" width="1" height="2" fill="#fff" fill-opacity="0.83"/>
<rect x="741" y="573" width="1" height="1" fill="#fff" fill-opacity="0.41"/>
<rect x="757" y="571" width="1" height="2" fill="#fff" fill-opacity="0.83"/>
<rect x="757" y="573" width="1" height="1" fill="#fff" fill-opacity="0.41"/>
<rect x="773" y="571" width="1" height="2" fill="#fff" fill-opacity="0.83"/>
<rect x="773" y="573" width="1" height="1" fill="#fff" fill-opacity="0.41"/>
<rect x="789" y="571" width="1" height="2" fill="#fff" fill-opacity="0.83"/>
<rect x="789" y="573" width="1" height="1" fill="#fff" fill-opacity="0.41"/>
<rect x="805" y="571" width="1" height="2" fill="#fff" fill-opacity="0.83"/>
<rect x="805" y="573" width="1" height="1" fill="#fff" fill-opacity="0.41"/>
<rect x="821" y="571" width="1" height="2" fill="#fff" fill-opacity="0.83"/>
<rect x="821" y="573" width="1" height="1" fill="#fff" fill-opacity="0.41"/>
<rect x="837" y="571" width="1" height="2" fill="#fff" fill-opacity="0.83"/>
<rect x="837" y="573" width="1" height="1" fill="#fff" fill-opacity="0.41"/>
<rect x="853" y="571" width="1" height="2" fill="#fff" fill-opacity="0.83"/>
<rect x="853" y="573" width="1" height="1" fill="#fff" fill-opacity="0.41"/>
<rect x="869" y="571" width="1" height="2" fill="#fff" fill-opacity="0.83"/>
<rect x="869" y="573" width="1" height="1" fill="#fff" fill-opacity="0.41"/>
<rect x="885" y="571" width="1" height="2" fill="#fff" fill-opacity="0.83"/>
<rect x="885" y="573" width="1" height="1" fill="#fff" fill-opacity="0.41"/>
<rect x="901" y="571" width="1" height="2" fill="#fff" fill-opacity="0.83"/>
<rect x="901" y="573" width="1" height="1" fill="#fff" fill-opacity="0.41"/>
<rect x="917" y="571" width="1" height="2" fill="#fff" fill-opacity="0.83"/>
<rect x="917" y="573" width="1" height="1" fill="#fff" fill-opacity="0.41"/>
<rect x="933" y="571" width="1" height="2" fill="#fff" fill-opacity="0.83"/>
<rect x="933" y="573" width="1" height="1" fill="#fff" fill-opacity="0.41"/>
<rect x="950" y="571" width="1" height="2" fill="#fff" fill-opacity="0.83"/>
<rect x="950" y="573" width="1" height="1" fill="#fff" fill-opacity="0.41"/>
<rect x="966" y="571" width="1" height="2" fill="#fff" fill-opacity="0.83"/>
<rect x="966" y="573" width="1" height="1" fill="#fff" fill-opacity="0.41"/>
<rect x="982" y="571" width="1" height="2" fill="#fff" fill-opacity="0.83"/>
<rect x="982" y="573" width="1" height="1" fill="#fff" fill-opacity="0.41"/>
<rect x="998" y="571" width="1" height="2" fill="#fff" fill-opacity="0.83"/>
<rect x="998" y="573" width="1" height="1" fill="#fff" fill-opacity="0.41"/>
<rect x="1014" y="571" width="1" height="2" fill="#fff" fill-opacity="0.83"/>
<rect x="1014" y="573" width="1" height="1" fill="#fff" fill-opacity="0.41"/>
<rect x="1030" y="571" width="1" height="2" fill="#fff" fill-opacity="0.83"/>
<rect x="1030" y="573" width="1" height="1" fill="#fff" fill-opacity="0.41"/>
<rect x="1046" y="571" width="1" height="2" fill="#fff" fill-opacity="0.83"/>
<rect x="1046" y="573" width="1" height="1" fill="#fff" fill-opacity="0.41"/>
<rect x="1062" y="571" width="1" height="2" fill="#fff" fill-opacity="0.83"/>
<rect x="1062" y="573" width="1" height="1" fill="#fff" fill-opacity="0.41"/>
<rect x="1078" y="571" width="1" height="2" fill="#fff" fill-opacity="0.83"/>
<rect x="1078" y="573" width="1" height="1" fill="#fff" fill-opacity="0.41"/>
<rect x="1094" y="571" width="1" height="2" fill="#fff" fill-opacity="0.83"/>
<rect x="1094" y="573" width="1" height="1" fill="#fff" fill-opacity="0.41"/>
<rect x="1110" y="571" width="1" height="2" fill="#fff" fill-opacity="0.83"/>
<rect x="1110" y="573" width="1" height="1" fill="#fff" fill-opacity="0.41"/>
<rect x="1126" y="571" width="1" height="2" fill="#fff" fill-opacity="0.83"/>
<rect x="1126" y="573" width="1" height="1" fill="#fff" fill-opacity="0.41"/>
<rect x="1142" y="571" width="1" height="2" fill="#fff" fill-opacity="0.83"/>
<rect x="1142" y="573" width="1" height="1" fill="#fff" fill-opacity="0.41"/>
</g>
<rect x="991.53" y="476.4" width="148.13" height="88.00" rx="2.8" ry="2.8" fill="#000" fill-opacity="0.8" stroke="#ccc" stroke-opacity="0.8" stroke-width="1.39"/>
<path d="M997.1 487.0 L1025.3 487.0" stroke="#0ff" stroke-opacity="0.7" stroke-width="2.08" stroke-linecap="square"/>
<circle cx="1011.20" cy="487.0" r="2.08" fill="#0ff" fill-opacity="0.7" stroke="#0ff" stroke-opacity="0.7" stroke-width="1.39"/>
<path d="M997.1 508.0 L1025.3 508.0" stroke="#fff" stroke-width="2.78" stroke-linecap="square"/>
<path d="M997.1 528.9 L1025.3 528.9" stroke="#f00" stroke-opacity="0.7" stroke-width="2.08" stroke-dasharray="7.71 3.33"/>
<path d="M997.1 549.8 L1025.3 549.8" stroke="#008000" stroke-opacity="0.7" stroke-width="2.08" stroke-dasharray="7.71 3.33"/>
<g shape-rendering="crispEdges">
<rect x="62" y="725" width="1084" height="2" fill="#fff" fill-opacity="0.05"/>
<rect x="62" y="757" width="1084" height="2" fill="#fff" fill-opacity="0.05"/>
<rect x="62" y="788" width="1084" height="2" fill="#fff" fill-opacity="0.05"/>
<rect x="62" y="820" width="1084" height="2" fill="#fff" fill-opacity="0.05"/>
<rect x="62" y="851" width="1084" height="2" fill="#fff" fill-opacity="0.05"/>
<rect x="62" y="882" width="1084" height="2" fill="#fff" fill-opacity="0.05"/>
</g>
<g shape-rendering="crispEdges">
<rect x="111" y="883" width="117" height="1" fill="#4ECDC4" fill-opacity="0.8"/>
<rect x="111" y="883" width="117" height="1" fill="#fff" fill-opacity="0.42"/>
<rect x="256" y="883" width="117" height="1" fill="#4ECDC4" fill-opacity="0.8"/>
<rect x="256" y="883" width="117" height="1" fill="#fff" fill-opacity="0.42"/>
<rect x="401" y="882" width="117" height="2" fill="#4ECDC4" fill-opacity="0.8"/>
<rect x="401" y="882" width="117" height="1" fill="#fff" fill-opacity="0.42"/>
<rect x="401" y="883" width="117" height="1" fill="#fff" fill-opacity="0.42"/>
<rect x="546" y="881" width="117" height="3" fill="#4ECDC4" fill-opacity="0.8"/>
<rect x="546" y="881" width="117" height="1" fill="#fff" fill-opacity="0.42"/>
<rect x="546" y="883" width="117" height="1" fill="#fff" fill-opacity="0.42"/>
<rect x="546" y="882" width="1" height="1" fill="#fff" fill-opacity="0.42"/>
<rect x="662" y="882" width="1" height="1" fill="#fff" fill-opacity="0.42"/>
<rect x="691" y="722" width="117" height="162" fill="#4ECDC4" fill-opacity="0.8"/>
<rect x="691" y="722" width="117" height="1" fill="#fff" fill-opacity="0.42"/>
<rect x="691" y="883" width="117" height="1" fill="#fff" fill-opacity="0.42"/>
<rect x="691" y="723" width="1" height="160" fill="#fff" fill-opacity="0.42"/>
<rect x="807" y="723" width="1" height="160" fill="#fff" fill-opacity="0.42"/>
<rect x="836" y="882" width="117" height="2" fill="#4ECDC4" fill-opacity="0.8"/>
<rect x="836" y="882" width="117" height="1" fill="#fff" fill-opacity="0.42"/>
<rect x="836" y="883" width="117" height="1" fill="#fff" fill-opacity="0.42"/>
<rect x="981" y="883" width="117" height="4" fill="#FF6B6B" fill-opacity="0.8"/>
<rect x="981" y="883" width="117" height="1" fill="#fff" fill-opacity="0.42"/>
<rect x="981" y="886" width="117" height="1" fill="#fff" fill-opacity="0.42"/>
<rect x="981" y="884" width="1" height="2" fill="#fff" fill-opacity="0.42"/>
<rect x="1097" y="884" width="1" height="2" fill="#fff" fill-opacity="0.42"/>
</g>
<g shape-rendering="crispEdges">
<rect x="62" y="883" width="1084" height="1" fill="#fff" fill-opacity="0.45"/>
<path d="M60 713h1088v183h-1088z M63 716v177h1082v-177z" fill="#fff" fill-opacity="0.05" fill-rule="evenodd"/>
<rect x="61" y="714" width="1086" height="1" fill="#fff"/>
<rect x="61" y="894" width="1086" height="1" fill="#fff"/>
<rect x="61" y="714" width="1" height="181" fill="#fff"/>
<rect x="1146" y="714" width="1" height="181" fill="#fff"/>
<rect x="56" y="725" width="5" height="3" fill="#fff" fill-opacity="0.05"/>
<rect x="57" y="726" width="4" height="1" fill="#fff"/>
<rect x="56" y="726" width="1" height="1" fill="#fff" fill-opacity="0.5"/>
<rect x="56" y="757" width="5" height="3" fill="#fff" fill-opacity="0.05"/>
<rect x="57" y="758" width="4" height="1" fill="#fff"/>
<rect x="56" y="758" width="1" height="1" fill="#fff" fill-opacity="0.5"/>
<rect x="56" y="788" width="5" height="3" fill="#fff" fill-opacity="0.05"/>
<rect x="57" y="789" width="4" height="1" fill="#fff"/>
<rect x="56" y="789" width="1" height="1" fill="#fff" fill-opacity="0.5"/>
<rect x="56" y="820" width="5" height="3" fill="#fff" fill-opacity="0.05"/>
<rect x="57" y="821" width="4" height="1" fill="#fff"/>
<rect x="56" y="821" width="1" height="1" fill="#fff" fill-opacity="0.5"/>
<rect x="56" y="851" width="5" height="3" fill="#fff" fill-opacity="0.05"/>
<rect x="57" y="852" width="4" height="1" fill="#fff"/>
<rect x="56" y="852" width="1" height="1" fill="#fff" fill-opacity="0.5"/>
<rect x="56" y="882" width="5" height="3" fill="#fff" fill-opacity="0.05"/>
<rect x="57" y="883" width="4" height="1" fill="#fff"/>
<rect x="56" y="883" width="1" height="1" fill="#fff" fill-opacity="0.5"/>
<rect x="168" y="896" width="3" height="4" fill="#fff" fill-opacity="0.05"/>
<rect x="169" y="895" width="1" height="4" fill="#fff"/>
<rect x="169" y="899" width="1" height="1" fill="#fff" fill-opacity="0.5"/>
<rect x="313" y="896" width="3" height="4" fill="#fff" fill-opacity="0.05"/>
<rect x="314" y="895" width="1" height="4" fill="#fff"/>
<rect x="314" y="899" width="1" height="1" fill="#fff" fill-opacity="0.5"/>
<rect x="458" y="896" width="3" height="4" fill="#fff" fill-opacity="0.05"/>
<rect x="459" y="895" width="1" height="4" fill="#fff"/>
<rect x="459" y="899" width="1" height="1" fill="#fff" fill-opacity="0.5"/>
<rect x="603" y="896" width="3" height="4" fill="#fff" fill-opacity="0.05"/>
<rect x="604" y="895" width="1" height="4" fill="#fff"/>
<rect x="604" y="899" width="1" height="1" fill="#fff" fill-opacity="0.5"/>
<rect x="748" y="896" width="3" height="4" fill="#fff" fill-opacity="0.05"/>
<rect x="749" y="895" width="1" height="4" fill="#fff"/>
<rect x="749" y="899" width="1" height="1" fill="#fff" fill-opacity="0.5"/>
<rect x="893" y="896" width="3" height="4" fill="#fff" fill-opacity="0.05"/>
<rect x="894" y="895" width="1" height="4" fill="#fff"/>
<rect x="894" y="899" width="1" height="1" fill="#fff" fill-opacity="0.5"/>
<rect x="1038" y="896" width="3" height="4" fill="#fff" fill-opacity="0.05"/>
<rect x="1039" y="895" width="1" height="4" fill="#fff"/>
<rect x="1039" y="899" width="1" height="1" fill="#fff" fill-opacity="0.5"/>
</g>
<text transform="translate(48.67 617.60) rotate(-45)" font-size="13.611" textLength="38.36" fill-opacity="0.9">09/27</text>
<text transform="translate(80.68 617.69) rotate(-45)" font-size="13.611" textLength="38.48" fill-opacity="0.9">09/28</text>
<text transform="translate(112.77 617.69) rotate(-45)" font-size="13.611" textLength="38.48" fill-opacity="0.9">09/29</text>
<text transform="translate(144.95 617.60) rotate(-45)" font-size="13.611" textLength="38.36" fill-opacity="0.9">09/30</text>
<text transform="translate(176.96 617.69) rotate(-45)" font-size="13.611" textLength="38.48" fill-opacity="0.9">10/01</text>
<text transform="translate(209.14 617.60) rotate(-45)" font-size="13.611" textLength="38.36" fill-opacity="0.9">10/02</text>
<text transform="translate(241.24 617.60) rotate(-45)" font-size="13.611" textLength="38.36" fill-opacity="0.9">10/03</text>
<text transform="translate(273.33 617.60) rotate(-45)" font-size="13.611" textLength="38.36" fill-opacity="0.9">10/04</text>
<text transform="translate(305.43 617.60) rotate(-45)" font-size="13.611" textLength="38.36" fill-opacity="0.9">10/05</text>
<text transform="translate(337.43 617.69) rotate(-45)" font-size="13.611" textLength="38.48" fill-opacity="0.9">10/06</text>
<text transform="translate(369.62 617.60) rotate(-45)" font-size="13.611" textLength="38.36" fill-opacity="0.9">10/07</text>
<text transform="translate(401.62 617.69) rotate(-45)" font-size="13.611" textLength="38.48" fill-opacity="0.9">10/08</text>
<text transform="translate(433.72 617.69) rotate(-45)" font-size="13.611" textLength="38.48" fill-opacity="0.9">10/09</text>
<text transform="translate(465.81 617.69) rotate(-45)" font-size="13.611" textLength="38.48" fill-opacity="0.9">10/10</text>
<text transform="translate(497.82 617.78) rotate(-45)" font-size="13.611" textLength="38.60" fill-opacity="0.9">10/11</text>
<text transform="translate(530.00 617.69) rotate(-45)" font-size="13.611" textLength="38.48" fill-opacity="0.9">10/12</text>
<text transform="translate(562.09 617.69) rotate(-45)" font-size="13.611" textLength="38.48" fill-opacity="0.9">10/13</text>
<text transform="translate(594.19 617.69) rotate(-45)" font-size="13.611" textLength="38.48" fill-opacity="0.9">10/14</text>
<text transform="translate(626.28 617.69) rotate(-45)" font-size="13.611" textLength="38.48" fill-opacity="0.9">10/15</text>
<text transform="translate(658.29 617.78) rotate(-45)" font-size="13.611" textLength="38.60" fill-opacity="0.9">10/16</text>
<text transform="translate(690.47 617.69) rotate(-45)" font-size="13.611" textLength="38.48" fill-opacity="0.9">10/17</text>
<text transform="translate(722.48 617.78) rotate(-45)" font-size="13.611" textLength="38.60" fill-opacity="0.9">10/18</text>
<text transform="translate(754.57 617.78) rotate(-45)" font-size="13.611" textLength="38.60" fill-opacity="0.9">10/19</text>
<text transform="translate(786.84 617.60) rotate(-45)" font-size="13.611" textLength="38.36" fill-opacity="0.9">10/20</text>
<text transform="translate(818.85 617.69) rotate(-45)" font-size="13.611" textLength="38.48" fill-opacity="0.9">10/21</text>
<text transform="translate(851.03 617.60) rotate(-45)" font-size="13.611" textLength="38.36" fill-opacity="0.9">10/22</text>
<text transform="translate(883.13 617.60) rotate(-45)" font-size="13.611" textLength="38.36" fill-opacity="0.9">10/23</text>
<text transform="translate(915.22 617.60) rotate(-45)" font-size="13.611" textLength="38.36" fill-opacity="0.9">10/24</text>
<text transform="translate(947.32 617.60) rotate(-45)" font-size="13.611" textLength="38.36" fill-opacity="0.9">10/25</text>
<text transform="translate(979.32 617.69) rotate(-45)" font-size="13.611" textLength="38.48" fill-opacity="0.9">10/26</text>
<text transform="translate(1011.51 617.60) rotate(-45)" font-size="13.611" textLength="38.36" fill-opacity="0.9">10/27</text>
<text transform="translate(1043.51 617.69) rotate(-45)" font-size="13.611" textLength="38.48" fill-opacity="0.9">10/28</text>
<text transform="translate(1075.61 617.69) rotate(-45)" font-size="13.611" textLength="38.48" fill-opacity="0.9">10/29</text>
<text transform="translate(1107.79 617.60) rotate(-45)" font-size="13.611" textLength="38.36" fill-opacity="0.9">10/30</text>
<text transform="translate(31.58 566.00)" font-size="13.889" textLength="19.70">−1</text>
<text transform="translate(42.73 483.00)" font-size="13.889">0</text>
<text transform="translate(42.60 399.00)" font-size="13.889">1</text>
<text transform="translate(42.73 315.00)" font-size="13.889">2</text>
<text transform="translate(42.73 231.00)" font-size="13.889">3</text>
<text transform="translate(42.73 147.00)" font-size="13.889">4</text>
<text transform="translate(42.73 63.00)" font-size="13.889">5</text>
<text transform="translate(22.42 338.91) rotate(-90)" font-size="13.889" textLength="71.38" fill-opacity="0.92">PNL (USD)</text>
<text transform="translate(61.20 28.00)" font-size="13.889" textLength="26.12">1e7</text>
<text transform="translate(392.08 24.00) scale(1 1.07)" font-size="16.667" textLength="423.88">Hyperliquidity Provider (HLP) - Evaluation (σ×0.75)</text>
<text transform="translate(1036.08 493.00)" font-size="13.889" textLength="98.12">Raw PNL Data</text>
<text transform="translate(1036.08 514.00)" font-size="13.889" textLength="93.75">Splined Mean</text>
<text transform="translate(1036.08 535.00)" font-size="13.889" textLength="49.73">+0.75σ</text>
<text transform="translate(1036.08 556.00)" font-size="13.889" textLength="43.14">-0.75σ</text>
<text transform="translate(145.54 934.26) rotate(-45)" font-size="13.611" textLength="29.25" fill-opacity="0.9">Mon</text>
<text transform="translate(294.57 930.28) rotate(-45)" font-size="13.611" textLength="23.62" fill-opacity="0.9">Tue</text>
<text transform="translate(434.85 935.06) rotate(-45)" font-size="13.611" textLength="30.38" fill-opacity="0.9">Wed</text>
<text transform="translate(582.99 931.96) rotate(-45)" font-size="13.611" textLength="26.00" fill-opacity="0.9">Thu</text>
<text transform="translate(734.68 925.33) rotate(-45)" font-size="13.611" textLength="16.62" fill-opacity="0.9">Fri</text>
<text transform="translate(875.31 929.75) rotate(-45)" font-size="13.611" textLength="22.88" fill-opacity="0.9">Sat</text>
<text transform="translate(1017.98 932.14) rotate(-45)" font-size="13.611" textLength="26.25" fill-opacity="0.9">Sun</text>
<text transform="translate(29.60 890.00)" font-size="13.889" textLength="21.88">0.0</text>
<text transform="translate(29.60 858.00)" font-size="13.889" textLength="21.88">0.2</text>
<text transform="translate(29.60 827.00)" font-size="13.889" textLength="21.88">0.4</text>
<text transform="translate(29.48 795.00)" font-size="13.889" textLength="22.00">0.6</text>
<text transform="translate(29.48 764.00)" font-size="13.889" textLength="22.00">0.8</text>
<text transform="translate(29.48 733.00)" font-size="13.889" textLength="22.00">1.0</text>
<text transform="translate(19.92 857.00) rotate(-90)" font-size="13.889" textLength="101.62" fill-opacity="0.95">Avg PNL (USD)</text>
<text transform="translate(61.20 711.00)" font-size="13.889" textLength="26.12">1e7</text>
<text transform="translate(144.73 881.00)" font-size="12.500" textLength="47.62">$34258</text>
<text transform="translate(289.84 880.00)" font-size="12.500" textLength="47.50">$42729</text>
<text transform="translate(434.83 880.00)" font-size="12.500" textLength="47.62">$87294</text>
<text transform="translate(576.01 879.00)" font-size="12.500" textLength="55.38">$124746</text>
<text transform="translate(713.13 720.00)" font-size="12.500" textLength="71.25">$10243456</text>
<text transform="translate(869.93 880.00)" font-size="12.500" textLength="47.75">$87541</text>
<text transform="translate(1008.86 897.00)" font-size="12.500" textLength="60.00">$-151539</text>
<text transform="translate(434.95 707.00) scale(1 1.07)" font-size="16.667" textLength="338.33">Average PNL by Weekday (Last 28 Days)</text>
</svg>
</body></html>
